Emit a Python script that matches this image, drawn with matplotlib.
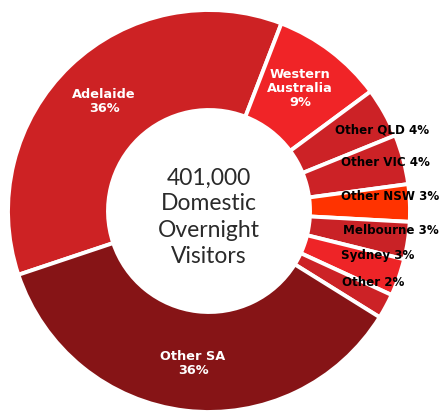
import matplotlib
matplotlib.use("Agg")
import matplotlib.pyplot as plt

# Share of domestic overnight visitors by origin
categories = ["Adelaide", "Western\nAustralia", "Other QLD", "Other VIC", "Other NSW",
              "Melbourne", "Sydney", "Other", "Other SA"]
shares = [36, 9, 4, 4, 3, 3, 3, 2, 36]
colors = ["#CD2224", "#F02427", "#CC2226", "#CC2226", "#FF3300",
          "#C92226", "#EE2427", "#CC2226", "#861416"]
total_visitors = "401,000"

W, H = 444, 413
fig = plt.figure(figsize=(W / 100, H / 100), dpi=100)
ax = fig.add_axes([0, 0, 1, 1])

cx, cy = 209, H - 211
r_out, r_in = 201, 101

ax.pie(
    shares, colors=colors, startangle=198.5, counterclock=False,
    center=(cx, cy), radius=r_out, frame=True,
    wedgeprops=dict(width=r_out - r_in, edgecolor="white", linewidth=2.8),
)
ax.set_xlim(0, W)
ax.set_ylim(0, H)
ax.set_aspect("equal")
ax.axis("off")

label_font = "DejaVu Sans"

# Labels inside the large segments (white)
inner_labels = [
    (0, 104, 101),
    (1, 300, 88),
    (8, 193, 364),
]
for idx, px, py in inner_labels:
    ax.text(px, H - py, f"{categories[idx]}\n{shares[idx]}%", ha="center", va="center",
            color="white", fontsize=9.3, fontweight="bold", family=label_font,
            linespacing=1.1)

# Labels for the small segments (black)
side_labels = [
    (2, 335, 130),
    (3, 341, 162),
    (4, 341, 197),
    (5, 343, 230),
    (6, 341, 255),
    (7, 342, 282),
]
for idx, px, py in side_labels:
    ax.text(px, H - py, f"{categories[idx]} {shares[idx]}%", ha="left", va="center",
            color="black", fontsize=8.6, fontweight="bold", family=label_font)

# Centre caption
ax.text(cx, H - 217, f"{total_visitors}\nDomestic\nOvernight\nVisitors",
        ha="center", va="center", color="#2a2a2a", fontsize=16.5,
        family="Lato", fontweight="normal", linespacing=1.3)

fig.savefig("out.png", dpi=100, facecolor="white")
